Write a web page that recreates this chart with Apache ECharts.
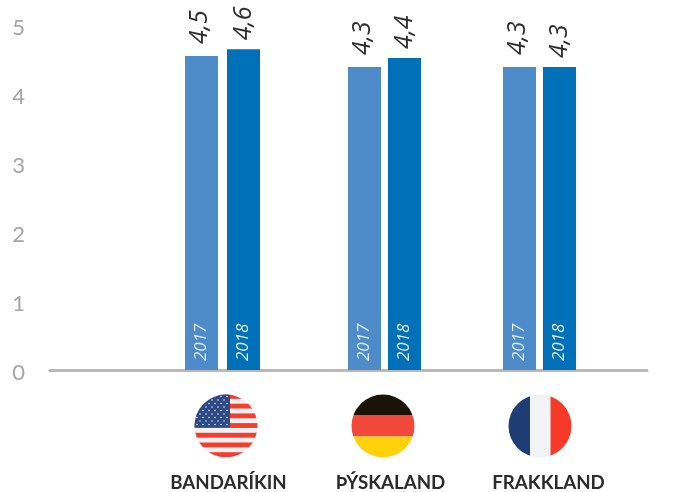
<!DOCTYPE html>
<html><head><meta charset="utf-8">
<style>html,body{margin:0;padding:0;background:#fff}#c{width:675px;height:492px}</style>
<script src="https://cdn.jsdelivr.net/npm/echarts@6/dist/echarts.min.js"></script>
</head><body><div id="c"></div>
<script>
const categories = ['BANDARÍKIN', 'ÞÝSKALAND', 'FRAKKLAND'];
const yTicks = [0, 1, 2, 3, 4, 5];
const years = ['2017', '2018'];
const bars2017 = [4.55, 4.39, 4.39];
const bars2018 = [4.65, 4.52, 4.39];
const labels2017 = ['4,5', '4,3', '4,3'];
const labels2018 = ['4,6', '4,4', '4,3'];

const font = 'Lato, "Open Sans", sans-serif';
const altFont = '"Open Sans", Lato, sans-serif';
const BAR_W = 33;
const groupNudge = [0, 3.5, 0];
const groupGap = [9, 7, 7];
const labelNudge = [-1.5, 0];
const labelLift = [12, 9];

function barRenderer(side, labels, year, color) {
  return function (params, api) {
    const i = api.value(0);
    const base = api.coord([i, 0]);
    const top = api.coord([i, api.value(1)]);
    const cx = base[0] + groupNudge[i];
    const left = side === 0 ? cx - groupGap[i] / 2 - BAR_W : cx + groupGap[i] / 2;
    const mid = left + BAR_W / 2;
    return {
      type: 'group',
      children: [
        { type: 'rect', shape: { x: left, y: top[1], width: BAR_W, height: base[1] - top[1] }, style: { fill: color } },
        { type: 'text', x: mid, y: base[1] - 9, rotation: Math.PI / 2,
          style: { text: year, fill: '#dfeaf5', font: 'italic 17px ' + altFont, align: 'left', verticalAlign: 'middle' } },
        { type: 'text', x: mid + labelNudge[side], y: top[1] - labelLift[side], rotation: Math.PI / 2,
          style: { text: labels[i], fill: '#2e2e2e', font: 'italic 25px ' + altFont, align: 'left', verticalAlign: 'middle' } }
      ]
    };
  };
}

function flagSvg(body) {
  const svg = '<svg xmlns="http://www.w3.org/2000/svg" width="64" height="64" viewBox="0 0 64 64">' +
    '<defs><clipPath id="k"><circle cx="32" cy="32" r="31.5"/></clipPath></defs><g clip-path="url(#k)">' + body + '</g></svg>';
  return 'data:image/svg+xml;charset=utf-8,' + encodeURIComponent(svg);
}
function usFlag() {
  let s = '<rect width="64" height="64" fill="#f1f1f4"/>';
  for (let r = 0; r < 7; r++) s += '<rect x="0" y="' + (r * 9.7) + '" width="64" height="4.85" fill="#f53d2d"/>';
  s += '<rect x="0" y="0" width="36" height="33.5" fill="#2b4a86"/>';
  for (let r = 0; r < 9; r++) {
    const n = r % 2 ? 5 : 6;
    for (let c = 0; c < n; c++) {
      s += '<circle cx="' + (3 + (r % 2 ? 3 : 0) + c * 6) + '" cy="' + (2.5 + r * 3.5) + '" r="0.8" fill="#e8ecf4"/>';
    }
  }
  return flagSvg(s);
}
function deFlag() {
  return flagSvg('<rect width="64" height="21" fill="#1a1408"/><rect y="21" width="64" height="21.5" fill="#f0483a"/><rect y="42.5" width="64" height="21.5" fill="#ffd10a"/>');
}
function frFlag() {
  return flagSvg('<rect width="22" height="64" fill="#1f3d75"/><rect x="22" width="20.5" height="64" fill="#f2f3f5"/><rect x="42.5" width="21.5" height="64" fill="#f53a2a"/>');
}
const flagImage = (src, x) => ({ type: 'image', x: x, y: 394, style: { image: src, width: 64, height: 64 } });

const labelShift = [12, 19, 18];
const rich = {};
labelShift.forEach((p, i) => {
  rich['c' + i] = { padding: [0, 0, 0, p], fontFamily: font, fontWeight: 'bold', fontSize: 18.7, color: '#2b2b2b' };
});

const chart = echarts.init(document.getElementById('c'), null, { renderer: 'canvas' });
chart.setOption({
  animation: false,
  backgroundColor: '#fff',
  grid: [
    { left: 50, right: 28, top: 28, bottom: 119 },
    { left: 143.25, right: 56.25, top: 25, bottom: 122 }
  ],
  xAxis: [
    { gridIndex: 0, type: 'category', data: [''], offset: -3,
      axisLine: { lineStyle: { color: '#b9b9b9', width: 3 } },
      axisTick: { show: false }, axisLabel: { show: false } },
    { gridIndex: 1, type: 'category', data: categories, axisLine: { show: false }, axisTick: { show: false },
      axisLabel: { interval: 0, margin: 103, verticalAlign: 'top', rich: rich,
        formatter: (v, i) => '{c' + i + '|' + v + '}' } }
  ],
  yAxis: [
    { gridIndex: 0, type: 'value', min: yTicks[0], max: yTicks[yTicks.length - 1], interval: 1,
      axisLine: { show: false }, axisTick: { show: false }, splitLine: { show: false },
      axisLabel: { margin: 25, color: '#a6a6a6', fontFamily: font, fontSize: 22 } },
    { gridIndex: 1, type: 'value', min: yTicks[0], max: yTicks[yTicks.length - 1], interval: 1, show: false }
  ],
  graphic: [flagImage(usFlag(), 194), flagImage(deFlag(), 351), flagImage(frFlag(), 508)],
  series: [
    { name: years[0], type: 'custom', xAxisIndex: 1, yAxisIndex: 1, clip: false, z: 5,
      renderItem: barRenderer(0, labels2017, years[0], '#4d8bc9'),
      encode: { x: 0, y: 1 }, data: bars2017.map((v, i) => [i, v]) },
    { name: years[1], type: 'custom', xAxisIndex: 1, yAxisIndex: 1, clip: false, z: 5,
      renderItem: barRenderer(1, labels2018, years[1], '#0070b8'),
      encode: { x: 0, y: 1 }, data: bars2018.map((v, i) => [i, v]) }
  ]
});
</script></body></html>
